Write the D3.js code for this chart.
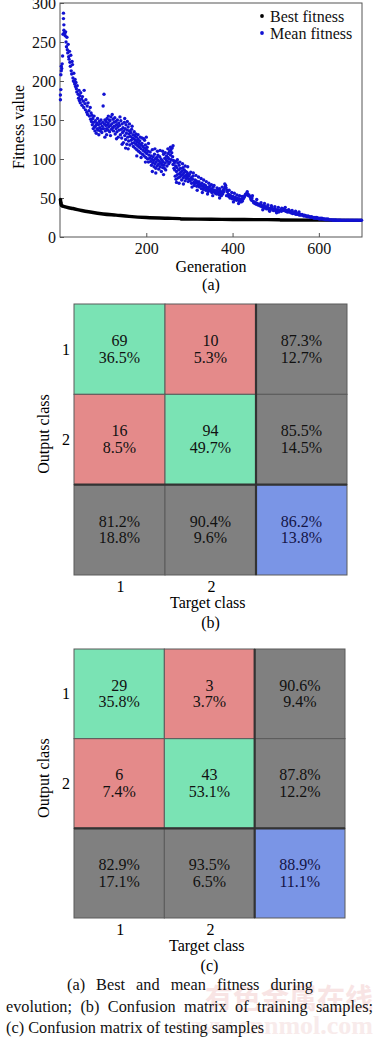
<!DOCTYPE html>
<html>
<head>
<meta charset="utf-8">
<script src="https://cdn.jsdelivr.net/npm/d3@7"></script>
<style>
body { margin: 0; background: #fff; }
svg { display: block; font-family: "Liberation Serif", "Times New Roman", serif; }
</style>
</head>
<body>
<svg id="fig" width="377" height="1039"></svg>
<script>
// best fitness per generation
var bestFitness = [[1,48],[2,44],[3,41],[5,40],[10,39],[20,37.5],[30,36.5],[50,34],[70,32],[100,29.5],[130,28],
    [160,26.5],[200,25],[250,24],[278,23.6],[282,23],[350,22.8],[400,22.5],[450,22.3],[508,22.2],[512,21.8],[600,21.6],[700,21.3]];

// mean fitness scatter [generation, value]
var meanFitness = [
    [1,176],[1,182],[2,189],[2,208],[3,213],[3,219],[4,216],[5,222],[6,232],[7,260],[8,287],[8,280],[9,272],[9,265],[10,262],[11,261],[12,258],[13,263],[14,250],[15,244],
    [16,256],[17,240],[18,236],[19,247],[20,231],[21,228],[22,238],[23,224],[24,219],[25,233],[26,213],[27,209],[28,225],[29,221],[30,204],[31,200],[32,210],[33,199],[34,196],[35,202],[36,193],[37,198],[38,190],[39,186],[40,194],
    [42,183],[43,178],[44,188],[45,175],[46,181],[47,172],[48,185],[50,177],[51,169],[52,180],[54,174],[55,166],[56,188],[58,171],[59,163],[60,176],[62,160],[63,168],[64,157],[65,172],[67,162],[68,155],[70,166],
    [71,151],[72,159],[73,148],[74,156],[75,144],[76,152],[77,139],[78,147],[79,155],[80,141],[81,136],[82,149],[83,143],[84,133],[85,146],[86,139],[87,152],[88,137],[89,144],[90,131],[91,148],[92,140],[93,136],[94,145],[95,150],[96,138],[97,134],[98,142],[99,147],[100,168],[101,139],[102,183],[103,145],[104,150],[105,136],
    [106,143],[107,148],[108,139],[109,152],[110,144],[111,137],[112,146],[113,141],[114,150],[115,135],[116,149],[117,143],[118,154],[119,138],[120,145],[122,140],[123,151],[124,136],[125,147],[126,142],[128,132],[129,148],[130,139],[131,144],[132,135],[133,150],[134,141],[135,128],[136,146],[137,137],[138,143],[140,131],[141,149],[142,138],[143,127],[144,145],[145,134],[146,140],[147,121],[148,136],[149,147],[150,130],[151,139],[152,125],[153,144],[154,133],[155,119],[156,137],[157,128],[158,141],[159,123],[160,132],[161,136],[162,118],[163,129],[164,134],[165,124],[166,138],[167,120],[168,127],[169,131],[170,116],
    [104,128],[108,131],[112,155],[117,130],[121,157],[127,153],[131,126],[139,154],[144,119],[150,152],[156,148],[161,145],[167,142],[152,114],[158,113],
    [171,126],[172,121],[173,130],[174,114],[175,124],[176,119],[177,128],[178,112],[179,122],[180,117],[181,125],[182,110],[183,120],[184,115],[185,123],[186,108],[187,118],[188,113],[190,120],[191,106],[192,116],[193,111],[194,126],[195,104],[196,114],[197,109],[198,118],[199,102],[200,112],[201,107],[202,115],[203,100],[204,110],[205,96],[206,105],[208,101],[209,109],
    [172,135],[176,132],[181,131],[186,128],[190,127],[196,124],[200,128],[205,120],[178,104],[188,102],[198,96],
    [210,97],[211,104],[212,92],[213,100],[214,84],[215,95],[216,103],[217,98],[218,90],[219,106],[220,94],[221,100],[222,88],[223,96],[224,102],[225,91],[226,99],[227,105],[228,93],[229,87],[230,97],[231,103],[232,90],[233,95],[234,100],[235,84],[236,93],[237,98],[238,89],[239,96],[240,106],[241,92],[242,88],[243,101],[244,95],[245,86],[246,99],[247,104],[248,91],[249,97],[250,102],[251,107],[252,94],[253,100],[254,110],[255,96],[256,105],[257,112],[258,99],[259,108],[260,114],[261,103],[262,93],[263,98],[264,88],[265,95],
    [214,112],[220,113],[226,110],[232,111],[238,110],[244,108],[250,113],[256,115],[262,117],[222,82],[240,80],
    [266,86],[267,78],[268,91],[269,74],[270,84],[271,89],[272,80],[273,95],[274,76],[275,86],[276,92],[277,81],[278,77],[279,88],[280,83],[281,79],[282,73],[283,85],[284,80],[285,89],[286,76],[287,82],[288,86],[289,78],[290,72],[291,84],[292,79],[293,75],[294,83],[295,77],[296,81],[297,71],[298,78],[299,74],[300,80],
    [268,97],[272,99],[278,96],[284,94],[290,91],[296,90],[270,70],[276,69],[286,68],
    [302,72],[304,76],[305,69],[307,74],[308,78],[310,70],[311,66],[313,73],[314,69],[316,72],[317,65],[319,70],[320,67],[322,71],[323,64],[325,68],[326,66],[328,62],[329,69],[331,65],[332,61],[334,67],[335,63],[337,66],[338,60],[340,64],[341,62],[343,58],[344,63],[346,60],[347,65],[349,59],[350,62],[352,57],[353,61],[355,64],[356,58],[358,60],
    [303,83],[309,82],[315,79],[321,77],[327,75],[333,73],[339,71],[345,69],[351,67],[357,66],[306,64],[318,60],[330,57],[342,55],[354,53],
    [360,56],[362,59],[363,55],[365,58],[366,61],[368,57],[369,54],[371,59],[372,56],[374,53],[375,57],[377,55],[378,60],[380,58],[381,62],[383,64],[384,66],[385,63],[387,60],[388,58],[390,55],[391,52],[393,54],[394,50],[396,53],[397,51],[399,49],
    [364,63],[370,62],[376,64],[382,68],[392,60],[398,57],[370,50],[386,53],
    [401,52],[403,50],[404,48],[406,51],[408,49],[409,47],[411,50],[413,48],[415,46],[416,49],[418,47],[420,45],[421,48],[423,46],[425,49],[427,51],[428,53],[430,55],[432,54],[433,56],[435,55],[437,53],[438,54],[440,52],[442,49],[444,47],[445,50],[447,46],[449,44],[450,45],[452,43],[454,44],[455,42],[457,43],[459,41],
    [404,56],[410,54],[416,53],[422,52],[434,58],[446,53],[456,48],[402,45],[414,43],
    [461,42],[463,40],[465,41],[467,39],[469,40],[471,38],[473,40],[475,37],[477,39],[479,36],[481,38],[483,37],[485,35],[487,37],[489,36],[491,38],[493,35],[495,34],[497,36],[499,35],[501,33],[503,35],[505,34],[507,32],[509,34],[511,35],[513,33],[515,35],[517,34],[519,36],[521,35],[523,33],[525,34],[527,32],
    [466,44],[474,43],[482,41],[490,40],[498,39],[506,38],[514,37],[522,38],[530,35],[538,34],[546,33],[554,32],[470,35],[486,33],[502,31],
    [529,33],[531,32],[533,33],[535,31],[537,32],[539,30],[541,31],[543,30],[545,31],[547,29],[549,30],[551,29],[553,30],[555,28],[557,29],[559,28],[561,29],[563,28],[565,27],[567,28],[569,27],[571,27],[573,26],[575,27],[577,26],[579,26],[581,25],[583,26],[585,25],[587,25],[589,24],[591,25],[593,24],[595,25],[597,24],[599,24],
    [601,23],[603,24],[605,23],[607,24],[609,23],[611,23],[613,23],[615,22],[617,23],[619,22],[621,23],[623,22],[625,22],[627,22],[629,22],[631,22],[633,21.5],[635,22],[637,21.5],[639,22],[641,21.5],[643,21.5],[645,21.5],[647,21.5],[649,21.5],
    [651,21.5],[654,21.5],[657,21.5],[660,21.5],[663,21.5],[666,21.5],[669,21.5],[672,21.5],[675,21.5],[678,21.5],[681,21.5],[684,21.5],[687,21.5],[690,21.5],[693,21.5],[696,21.5],[699,21.5]
];

var yTicks = [0, 50, 100, 150, 200, 250, 300];
var xTicks = [200, 400, 600];
var legendNames = ["Best fitness", "Mean fitness"];
var legendColors = ["#000", "#1212d2"];

// confusion matrices: counts, share of all samples, per row / per column accuracy
var classes = ["1", "2"];
var trainCounts = [[69, 10], [16, 94]];
var trainShare = [[36.5, 5.3], [8.5, 49.7]];
var trainRowAcc = [87.3, 85.5];
var trainColAcc = [81.2, 90.4];
var trainTotalAcc = 86.2;
var testCounts = [[29, 3], [6, 43]];
var testShare = [[35.8, 3.7], [7.4, 53.1]];
var testRowAcc = [90.6, 87.8];
var testColAcc = [82.9, 93.5];
var testTotalAcc = 88.9;

var captionLines = ["(a) Best and mean fitness during",
    "evolution; (b) Confusion matrix of training samples;",
    "(c) Confusion matrix of testing samples"];

var svg = d3.select("#fig");
var fs = 16;

// ---------- (a) fitness scatter ----------
var x = d3.scaleLinear().domain([0, 700]).range([60, 362]);
var y = d3.scaleLinear().domain([0, 300]).range([237, 3]);

var ga = svg.append("g");
ga.append("rect").attr("x", 60).attr("y", 3).attr("width", 302).attr("height", 234)
    .style("fill", "none").style("stroke", "#555").style("stroke-width", "1px");

var yAxis = ga.append("g").attr("transform", "translate(60,0)")
    .call(d3.axisLeft(y).tickValues(yTicks).tickSizeInner(-4).tickSizeOuter(0).tickPadding(4));
var xAxis = ga.append("g").attr("transform", "translate(0,237)")
    .call(d3.axisBottom(x).tickValues(xTicks).tickSizeInner(-4).tickSizeOuter(0).tickPadding(6));
[yAxis, xAxis].forEach(function (a) {
    a.attr("font-family", null);
    a.select(".domain").remove();
    a.selectAll("line").style("stroke", "#555");
    a.selectAll("text").style("font-size", fs + "px").style("fill", "#111");
});

ga.append("path")
    .datum(bestFitness)
    .attr("d", d3.line().x(d => x(d[0])).y(d => y(d[1])).curve(d3.curveMonotoneX))
    .style("fill", "none").style("stroke", "#000").style("stroke-width", "3.4px");
ga.selectAll("circle.best")
    .data(bestFitness.slice(0, 4))
    .join("circle").classed("best", true)
    .attr("cx", d => x(d[0])).attr("cy", d => y(d[1])).attr("r", 1.7)
    .style("fill", "#000");

ga.selectAll("circle.mean")
    .data(meanFitness)
    .join("circle").classed("mean", true)
    .attr("cx", d => x(d[0])).attr("cy", d => y(d[1])).attr("r", 1.7)
    .style("fill", legendColors[1]);

var leg = ga.selectAll("g.leg").data(legendNames).join("g").classed("leg", true)
    .attr("transform", (d, i) => "translate(262," + (17 + i * 17) + ")");
leg.append("circle").attr("r", 1.9).attr("cy", -1).style("fill", (d, i) => legendColors[i]);
leg.append("text").attr("x", 8).attr("dy", "0.33em").text(d => d)
    .style("font-size", fs + "px").style("fill", "#111");

ga.append("text").attr("x", 211).attr("y", 272).attr("text-anchor", "middle")
    .style("font-size", fs + "px").text("Generation");
ga.append("text").attr("x", 211).attr("y", 290).attr("text-anchor", "middle")
    .style("font-size", fs + "px").text("(a)");
ga.append("text").attr("transform", "translate(24,127) rotate(-90)").attr("text-anchor", "middle")
    .style("font-size", fs + "px").text("Fitness value");

// ---------- (b), (c) confusion matrices ----------
var colors = { hit: "#7ae3b4", miss: "#e48a8a", sum: "#808080", total: "#7a95e6" };
var pct = d3.format(".1f");

function confusion(g, box, counts, share, rowAcc, colAcc, totalAcc, tag) {
    var cx = d3.scaleBand().domain([0, 1, 2]).range([box.left, box.right]);
    var cy = d3.scaleBand().domain([0, 1, 2]).range([box.top, box.bottom]);
    var cells = [];
    for (var r = 0; r < 3; r++) {
        for (var c = 0; c < 3; c++) {
            var cell = { r: r, c: c };
            if (r < 2 && c < 2) {
                cell.kind = r === c ? "hit" : "miss";
                cell.lines = [counts[r][c], pct(share[r][c]) + "%"];
            } else if (r < 2) {
                cell.kind = "sum";
                cell.lines = [pct(rowAcc[r]) + "%", pct(100 - rowAcc[r]) + "%"];
            } else if (c < 2) {
                cell.kind = "sum";
                cell.lines = [pct(colAcc[c]) + "%", pct(100 - colAcc[c]) + "%"];
            } else {
                cell.kind = "total";
                cell.lines = [pct(totalAcc) + "%", pct(100 - totalAcc) + "%"];
            }
            cells.push(cell);
        }
    }
    var cg = g.selectAll("g.cell").data(cells).join("g").classed("cell", true)
        .attr("transform", d => "translate(" + cx(d.c) + "," + cy(d.r) + ")");
    cg.append("rect").attr("width", cx.bandwidth()).attr("height", cy.bandwidth())
        .style("fill", d => colors[d.kind]).style("stroke", "#5a5a5a").style("stroke-width", "1px");
    cg.selectAll("text").data(d => d.lines.map(function (t, i) { return { t: t, i: i, kind: d.kind }; }))
        .join("text")
        .attr("x", cx.bandwidth() / 2)
        .attr("y", d => cy.bandwidth() / 2 - 3 + d.i * 16.5)
        .attr("text-anchor", "middle")
        .style("font-size", fs + "px")
        .style("fill", d => d.kind === "total" ? "#141446" : "#111")
        .text(d => d.t);
    // heavier separators before the summary row / column
    g.append("line").attr("x1", cx(2)).attr("x2", cx(2)).attr("y1", box.top).attr("y2", box.bottom)
        .style("stroke", "#333").style("stroke-width", "2.2px");
    g.append("line").attr("x1", box.left).attr("x2", box.right).attr("y1", cy(2)).attr("y2", cy(2))
        .style("stroke", "#333").style("stroke-width", "2.2px");

    g.selectAll("text.rowlab").data(classes).join("text").classed("rowlab", true)
        .attr("x", box.left - 8).attr("y", (d, i) => cy(i) + cy.bandwidth() / 2)
        .attr("dy", "0.35em").attr("text-anchor", "middle").style("font-size", fs + "px").text(d => d);
    g.selectAll("text.collab").data(classes).join("text").classed("collab", true)
        .attr("x", (d, i) => cx(i) + cx.bandwidth() / 2 + 1).attr("y", box.bottom + 17)
        .attr("text-anchor", "middle").style("font-size", fs + "px").text(d => d);
    g.append("text").attr("x", box.left + (box.right - box.left) * 0.49).attr("y", box.bottom + 33)
        .attr("text-anchor", "middle").style("font-size", fs + "px").text("Target class");
    g.append("text").attr("x", box.left + (box.right - box.left) * 0.5).attr("y", box.bottom + 53)
        .attr("text-anchor", "middle").style("font-size", fs + "px").text(tag);
    g.append("text")
        .attr("transform", "translate(49," + (box.top + (box.bottom - box.top) * 0.48) + ") rotate(-90)")
        .attr("text-anchor", "middle").style("font-size", fs + "px").text("Output class");
}

confusion(svg.append("g"), { left: 74, right: 347, top: 304, bottom: 575 },
    trainCounts, trainShare, trainRowAcc, trainColAcc, trainTotalAcc, "(b)");
confusion(svg.append("g"), { left: 74, right: 345, top: 649, bottom: 918 },
    testCounts, testShare, testRowAcc, testColAcc, testTotalAcc, "(c)");

// ---------- watermark + caption ----------
svg.append("text").attr("x", 373).attr("y", 1009).attr("text-anchor", "end")
    .style("font-family", "Noto Sans CJK SC").style("font-size", "28px").style("font-weight", "bold")
    .style("fill", "#f8e4e4").text("有色金属在线");
svg.append("text").attr("x", 373).attr("y", 1034).attr("text-anchor", "end")
    .style("font-size", "26px").style("font-weight", "bold")
    .style("fill", "#f8ebeb").text("www.cnnmol.com");

// justified caption: stretch word gaps to the line widths of the original
var capStart = [67, 6, 6];
var capWidth = [246, 367, null];
svg.selectAll("text.cap").data(captionLines).join("text").classed("cap", true)
    .attr("x", (d, i) => capStart[i])
    .attr("y", (d, i) => 990 + i * 21.5)
    .style("font-size", "16.3px").style("fill", "#111")
    .text(d => d)
    .each(function (d, i) {
        if (!capWidth[i]) return;
        var gaps = d.split(" ").length - 1;
        var extra = (capWidth[i] - this.getComputedTextLength()) / gaps;
        d3.select(this).style("word-spacing", extra + "px");
    });
</script>
</body>
</html>
